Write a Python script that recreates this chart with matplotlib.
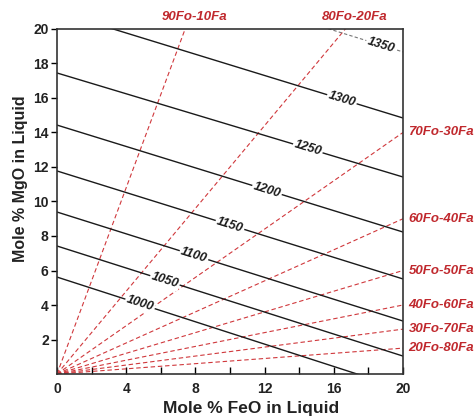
import numpy as np
import matplotlib.pyplot as plt

plt.rcParams['font.family'] = ['Liberation Sans', 'DejaVu Sans']

# --- isotherms (deg C): MgO at FeO = 0 and at FeO = 20 ---
temps = [1000, 1050, 1100, 1150, 1200, 1250, 1300, 1350]
mgo_left = [5.62, 7.42, 9.39, 11.77, 14.43, 17.45, 21.0, 24.9]
mgo_right = [-0.86, 1.04, 3.07, 5.51, 8.23, 11.42, 14.84, 18.67]
label_feo = [4.8, 6.24, 7.92, 10.0, 12.14, 14.5, 16.47, 18.73]

# --- olivine composition lines through origin (MgO/FeO of liquid) ---
ol_labels = ['90Fo-10Fa', '80Fo-20Fa', '70Fo-30Fa', '60Fo-40Fa',
             '50Fo-50Fa', '40Fo-60Fa', '30Fo-70Fa', '20Fo-80Fa']
ol_ratio = [2.7, 1.2, 0.7, 0.45, 0.3, 0.2, 0.13, 0.075]

red = '#c0282d'

fig, ax = plt.subplots(figsize=(4.75, 4.2), dpi=100)
fig.subplots_adjust(left=0.12, right=0.8484, bottom=0.1095, top=0.931)

feo = np.array([0.0, 20.0])

# olivine lines
for r, lab in zip(ol_ratio, ol_labels):
    ax.plot(feo, r * feo, color='#d0383c', lw=0.8, dashes=(4, 2.5))
    lab_style = dict(color=red, fontsize=9.5, fontweight='bold', fontstyle='italic',
                     textcoords='offset points', annotation_clip=False)
    if r * 20 > 20:
        ax.annotate(lab, (20 / r, 20), xytext=(7, 4), ha='center', va='bottom', **lab_style)
    else:
        ax.annotate(lab, (20, 20 * r), xytext=(4, 0), ha='left', va='center', **lab_style)

# isotherms
for t, y0, y1, xl in zip(temps, mgo_left, mgo_right, label_feo):
    if t == 1350:
        ax.plot(feo, [y0, y1], color='#777777', lw=0.8, dashes=(3, 2))
    else:
        ax.plot(feo, [y0, y1], color='#1a1a1a', lw=1.0)
    slope = (y1 - y0) / 20
    ax.text(xl, y0 + slope * xl, str(t), rotation=np.degrees(np.arctan(slope)),
            transform_rotates_text=True, rotation_mode='anchor',
            ha='center', va='center', fontsize=9, fontweight='bold', fontstyle='italic',
            color='#1a1a1a', bbox=dict(fc='white', ec='none', pad=1))

ax.set_xlim(0, 20)
ax.set_ylim(0, 20)
ax.set_xticks(range(0, 21, 4))
ax.set_xticks(range(0, 21, 2), minor=True)
ax.set_yticks(range(2, 21, 2))
ax.tick_params(axis='x', which='both', direction='in', length=5, pad=6, width=1)
ax.tick_params(axis='y', direction='out', length=4, pad=2, width=1)
for lbl in ax.get_xticklabels() + ax.get_yticklabels():
    lbl.set_fontweight('bold')
    lbl.set_fontsize(10)
    lbl.set_color('#222222')
for sp in ax.spines.values():
    sp.set_color('#333333')
    sp.set_linewidth(1.2)

fig.text(251 / 475, 1 - 409 / 420, 'Mole % FeO in Liquid', ha='center', va='center',
         fontsize=12.5, fontweight='bold', color='#222222')
fig.text(21 / 475, 1 - 179 / 420, 'Mole % MgO in Liquid', ha='center', va='center',
         rotation=90, fontsize=11.5, fontweight='bold', color='#222222')

plt.savefig('out.png', dpi=100)
